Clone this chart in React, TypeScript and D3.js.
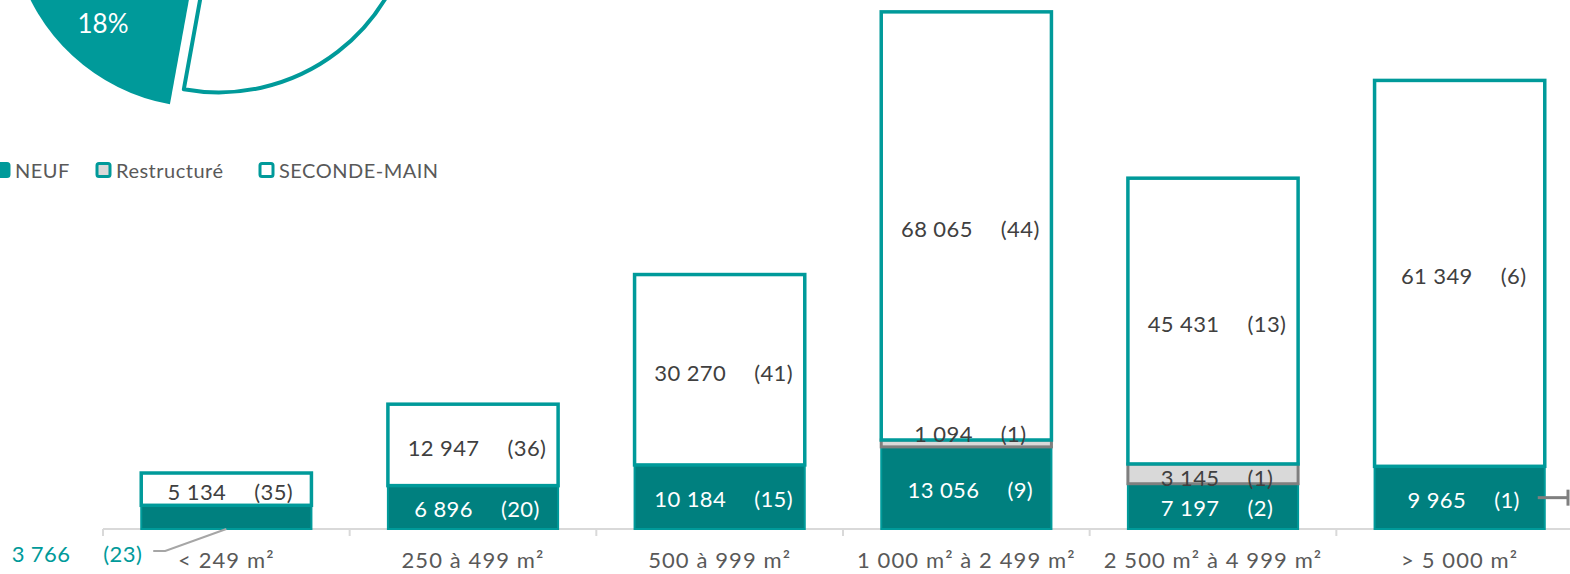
import React from "react";
import * as d3 from "d3";

const categories = ["< 249 m²", "250 à 499 m²", "500 à 999 m²", "1 000 m² à 2 499 m²", "2 500 m² à 4 999 m²", "> 5 000 m²"];
const neufValues = [3766, 6896, 10184, 13056, 7197, 9965];
const neufCounts = [23, 20, 15, 9, 2, 1];
const restructValues = [0, 0, 0, 1094, 3145, 0];
const restructCounts = [0, 0, 0, 1, 1, 0];
const secondeValues = [5134, 12947, 30270, 68065, 45431, 61349];
const secondeCounts = [35, 36, 41, 44, 13, 6];
const seriesNames = ["NEUF", "Restructuré", "SECONDE-MAIN"];
const pieValues = [18, 2, 80];
const pieLabels = ["18%", "", ""];

const W = 1570;
const H = 574;
const TEAL = "#009a9a";
const TEAL_DARK = "#00807f";
const GRAY_FILL = "#d9d9d9";
const GRAY_LINE = "#7f7f7f";
const TEXT = "#404040";
const LABEL_FONT = "Lato, 'Open Sans', sans-serif";

const fmt = (v: number) => d3.format(",")(v).replace(/,/g, " ");

function Pair({ x, y, v, n, fill, gap = 28 }: { x: number; y: number; v: number; n: number; fill: string; gap?: number }) {
  return (
    <text x={x} y={y} fill={fill} textAnchor="middle" dominantBaseline="central" letterSpacing={0.4}>
      <tspan>{fmt(v)}</tspan>
      <tspan dx={gap}>{`(${n})`}</tspan>
    </text>
  );
}

export default function App() {
  const x = d3.scaleBand<string>().domain(categories).range([103, 1583]).paddingInner(0.31).paddingOuter(0.155);
  const y = d3.scaleLinear().domain([0, 84100]).range([529, 0]);
  const bw = x.bandwidth();

  const start = (190.3 * Math.PI) / 180;
  const pie = d3.pie<number>().sort(null).startAngle(start).endAngle(start + 2 * Math.PI);
  const arcs = pie(pieValues);
  const R = 195;
  const arcGen = d3.arc<d3.PieArcDatum<number>>().innerRadius(0).outerRadius(R);
  const labelArc = d3.arc<d3.PieArcDatum<number>>().innerRadius(R * 0.77).outerRadius(R * 0.77);
  const pcx = 218.7;
  const pcy = -102.6;
  const pieFills = [TEAL, GRAY_FILL, "#ffffff"];
  const pieStrokes = ["none", TEAL, TEAL];

  const bars = categories.map((c, i) => {
    const x0 = x(c) as number;
    const n0 = 0, n1 = neufValues[i];
    const r0 = n1, r1 = n1 + restructValues[i];
    const s0 = r1, s1 = r1 + secondeValues[i];
    return { c, i, x0, n0, n1, r0, r1, s0, s1 };
  });

  const axisY = y(0);
  const lastMid = (y(0) + y(neufValues[5])) / 2;

  return (
    <svg width={W} height={H} style={{ position: "absolute", left: 0, top: 0, background: "#fff" }}>
      {/* pie */}
      <g transform={`translate(${pcx},${pcy})`}>
        {arcs.map((a, k) => {
          const mid = (a.startAngle + a.endAngle) / 2;
          const off = k === 0 ? 20.5 : 0;
          const dx = Math.sin(mid) * off;
          const dy = -Math.cos(mid) * off;
          return (
            <g key={k} transform={`translate(${dx},${dy})`}>
              <path d={arcGen(a) || ""} fill={pieFills[k]} stroke={pieStrokes[k]} strokeWidth={4} strokeLinejoin="round" />
              {pieLabels[k] && (
                <text
                  x={labelArc.centroid(a)[0]}
                  y={labelArc.centroid(a)[1]}
                  fill="#fff"
                  fontSize={26}
                  fontFamily="Lato, 'Open Sans', sans-serif"
                  textAnchor="middle"
                  dominantBaseline="central"
                >
                  {pieLabels[k]}
                </text>
              )}
            </g>
          );
        })}
      </g>

      {/* legend */}
      <g fontFamily="Lato, 'Open Sans', sans-serif" fontSize={20} fill="#595959" letterSpacing={0.5}>
        {seriesNames.map((s, k) => {
          const mx = [-4, 97, 260][k];
          const fills = [TEAL, GRAY_FILL, "#ffffff"];
          return (
            <g key={s}>
              <rect x={mx} y={163.5} width={13} height={13} rx={2} fill={fills[k]} stroke={TEAL} strokeWidth={3} />
              <text x={mx + 19} y={177.5}>{s}</text>
            </g>
          );
        })}
      </g>

      {/* axis */}
      <line x1={103} x2={W} y1={axisY} y2={axisY} stroke="#d9d9d9" strokeWidth={2} />
      {categories.map((c) => {
        const tx = (x(c) as number) - (x.step() * x.paddingInner()) / 2;
        return <line key={c} x1={tx} x2={tx} y1={axisY} y2={axisY + 7} stroke="#d9d9d9" strokeWidth={2} />;
      })}

      {/* bars */}
      {bars.map((b) => (
        <g key={b.c}>
          <rect x={b.x0} y={y(b.n1)} width={bw} height={y(b.n0) - y(b.n1)} fill={TEAL_DARK} stroke={TEAL} strokeWidth={2} />
          {restructValues[b.i] > 0 && (
            <rect x={b.x0} y={y(b.r1)} width={bw} height={y(b.r0) - y(b.r1)} fill={GRAY_FILL} stroke={GRAY_LINE} strokeWidth={3} />
          )}
          <rect x={b.x0} y={y(b.s1)} width={bw} height={y(b.s0) - y(b.s1)} fill="#ffffff" stroke={TEAL} strokeWidth={3.5} />
        </g>
      ))}

      {/* labels */}
      <g fontFamily={LABEL_FONT} fontSize={22}>
        {bars.map((b) => {
          const cx = b.x0 + bw / 2 + 4;
          return (
            <g key={b.c}>
              {b.i > 0 && (
                <Pair x={cx} y={(y(b.n0) + y(b.n1)) / 2 + 1} v={neufValues[b.i]} n={neufCounts[b.i]} fill="#ffffff" />
              )}
              {restructValues[b.i] > 0 && (
                <Pair
                  x={cx}
                  y={(y(b.r0) + y(b.r1)) / 2 - (b.i === 3 ? 10 : -3)}
                  v={restructValues[b.i]}
                  n={restructCounts[b.i]}
                  fill={TEXT}
                />
              )}
              <Pair x={cx} y={(y(b.s0) + y(b.s1)) / 2 + 2} v={secondeValues[b.i]} n={secondeCounts[b.i]} fill={TEXT} />
            </g>
          );
        })}
        {/* outside label for first NEUF value */}
        <text x={bars[0].x0 + 1} y={553} fill={TEAL} textAnchor="end" dominantBaseline="central" letterSpacing={0.4}>
          <tspan>{fmt(neufValues[0])}</tspan>
          <tspan dx={33}>{`(${neufCounts[0]})`}</tspan>
        </text>
      </g>
      <polyline
        points={`${bars[0].x0 + 12},551 ${bars[0].x0 + 24},551 ${bars[0].x0 + bw / 2},${axisY}`}
        fill="none"
        stroke="#a6a6a6"
        strokeWidth={2}
      />
      {/* leader on last bar */}
      <line x1={bars[5].x0 + bw - 7} x2={1568} y1={lastMid} y2={lastMid} stroke={GRAY_LINE} strokeWidth={3} />
      <line x1={1568} x2={1568} y1={lastMid - 8} y2={lastMid + 8} stroke={GRAY_LINE} strokeWidth={3} />

      {/* category labels */}
      <g fontFamily={LABEL_FONT} fontSize={22} fill="#595959" letterSpacing={1.1}>
        {categories.map((c) => (
          <text key={c} x={(x(c) as number) + bw / 2} y={568} textAnchor="middle">
            {c}
          </text>
        ))}
      </g>
    </svg>
  );
}
